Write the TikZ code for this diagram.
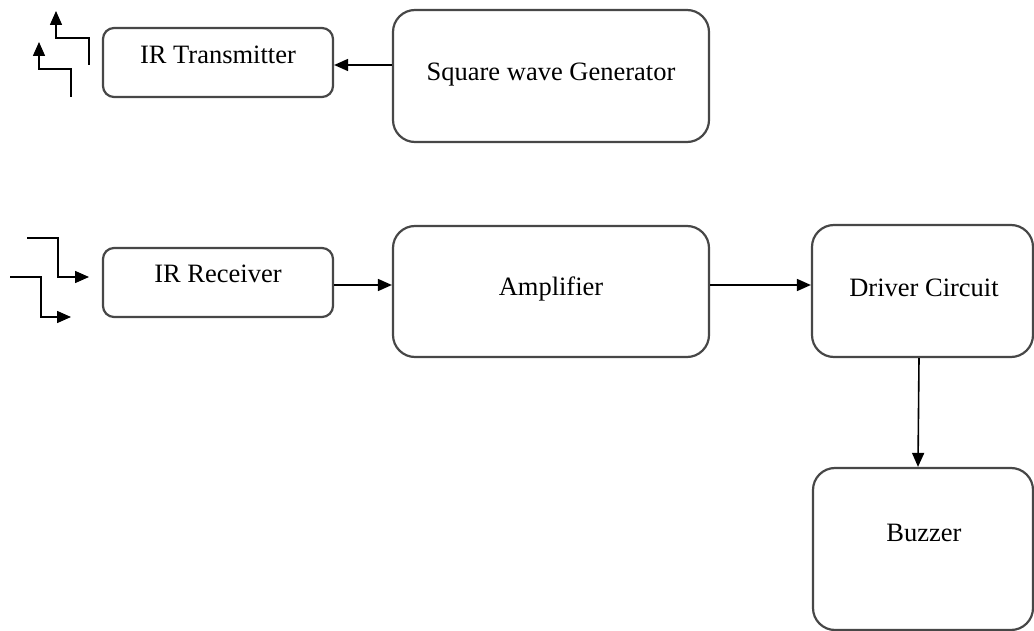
\documentclass[tikz,border=0pt]{standalone}
\usepackage{fontspec}
\setmainfont{Liberation Serif}
\usetikzlibrary{arrows.meta}

\begin{document}
\begin{tikzpicture}[x=1pt,y=-1pt,
  blockbox/.style={draw=black!72, line width=2.2pt, fill=white, inner sep=0pt},
  smallbox/.style={blockbox, rounded corners=11pt},
  bigbox/.style={blockbox, rounded corners=22pt},
  blocktext/.style={anchor=base, inner sep=0pt, font=\fontsize{26.5}{30}\selectfont},
  arr/.style={line width=1.6pt, -{Triangle[length=14pt,width=12pt]}},
  sig/.style={arr, line join=miter}
]
\useasboundingbox (0,0) rectangle (1034,631);

% transmitter chain
\node[smallbox, minimum width=230pt, minimum height=69pt] (tx) at (218,62.5) {};
\node[blocktext] (txt) at (218,64) {IR Transmitter};
\node[bigbox, minimum width=316pt, minimum height=132pt] (gen) at (551,76) {};
\node[blocktext] (gent) at (551,81) {Square wave Generator};

% receiver chain
\node[smallbox, minimum width=230pt, minimum height=69pt] (rx) at (218,282.5) {};
\node[blocktext] (rxt) at (218,283) {IR Receiver};
\node[bigbox, minimum width=316pt, minimum height=131pt] (amp) at (551,291.5) {};
\node[blocktext] (ampt) at (551,296) {Amplifier};
\node[bigbox, minimum width=221pt, minimum height=132pt] (drv) at (922.5,291) {};
\node[blocktext] (drvt) at (924,297) {Driver Circuit};
\node[bigbox, minimum width=220pt, minimum height=162pt] (buz) at (923,549) {};
\node[blocktext] (buzt) at (924,541) {Buzzer};

% connectors
\draw[arr] (gen.west |- 0,65) -- (tx.east |- 0,65);
\draw[arr] (rx.east |- 0,285) -- (amp.west |- 0,285);
\draw[arr] (amp.east |- 0,285) -- (drv.west |- 0,285);
\draw[arr] (drv.south -| 919,0) -- (buz.north -| 918,0);

% emitted signal symbols
\draw[sig] (89,65) -- (89,38) -- (56,38) -- (56,11);
\draw[sig] (71,97) -- (71,69) -- (39,69) -- (39,42);

% received signal symbols
\draw[sig] (27,238) -- (58,238) -- (58,277) -- (89,277);
\draw[sig] (10,277) -- (41,277) -- (41,317) -- (71,317);
\end{tikzpicture}
\end{document}
